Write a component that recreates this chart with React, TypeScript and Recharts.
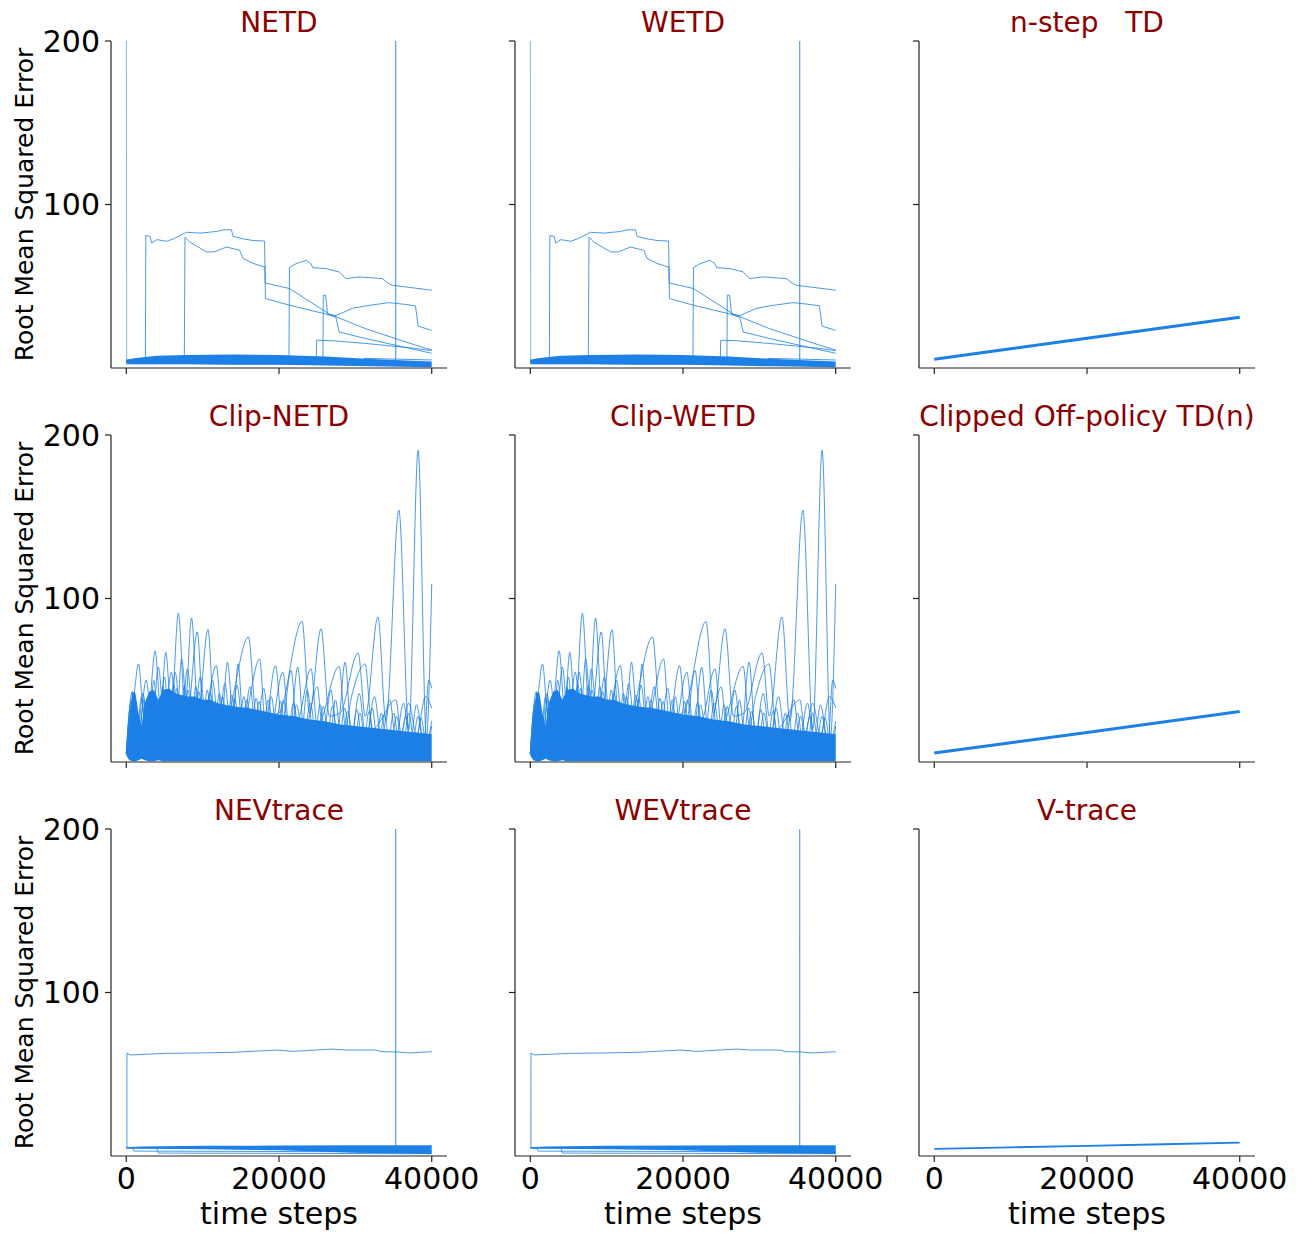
import { Area, ComposedChart, Label, Line, XAxis, YAxis } from 'recharts'

// 3x3 grid of RMSE curves, one small chart per method.

const BLUE = '#1c80e6'
const AXIS = '#222'
const TITLE_RED = '#8b0000'
const FONT = '"DejaVu Sans", "Liberation Sans", sans-serif'

const X_TICKS = [0, 20000, 40000]
const Y_TICKS = [100, 200]
const X_DOMAIN: [number, number] = [-2000, 42000]
const Y_DOMAIN: [number, number] = [0, 200]

type Pt = [number, number]
type BandPt = [number, number, number] // step, low, high of the dense bundle of runs

// ---- NETD / WETD (same picture) ----
const netdBand: BandPt[] = [
  [0, 3, 5], [1000, 2.5, 6], [4000, 2.5, 7.5], [8000, 2.5, 8], [14000, 2, 8.3],
  [20000, 2, 8], [26000, 1.5, 7], [32000, 1, 5.5], [36000, 0.7, 4.8], [40000, 0.4, 4],
]
const netdSpikeStart: Pt[] = [[0, 260], [60, 5], [600, 4.5]]
const netdSpikeLate: Pt[] = [[35270, 5], [35285, 260], [35300, 5]]
const netdRunA: Pt[] = [
  [0, 4.5], [2500, 4.5], [2560, 81], [3130, 80.5], [3340, 76.4], [4000, 78.5], [5300, 77.5],
  [6170, 79], [7900, 83], [9640, 82.5], [11820, 83.5], [12680, 84.5], [13770, 84.5], [13980, 80.5],
  [15290, 79], [16590, 78], [18110, 77.6], [18200, 52], [21370, 48.6], [26580, 33], [31360, 24],
  [37870, 14], [40000, 11],
]
const netdRunB: Pt[] = [
  [0, 4], [7600, 4], [7690, 80], [8340, 77], [10510, 71], [11500, 71], [13120, 74], [14850, 72],
  [15290, 67], [16590, 64], [17890, 62], [18150, 62], [18220, 42.5], [21370, 38.4], [26150, 33],
  [27450, 31], [27880, 22], [31360, 18], [40000, 9],
]
const netdRunC: Pt[] = [
  [0, 3.5], [21300, 3.5], [21370, 61.4], [22240, 63.8], [23540, 65.9], [24190, 63.8], [24410, 61.4],
  [26150, 60.8], [27010, 59.8], [27880, 58.8], [28750, 54.7], [30490, 55.7], [33520, 54.7],
  [34400, 51.6], [34830, 50.6], [40000, 47.6],
]
const netdRunD: Pt[] = [
  [0, 3], [25750, 3], [25800, 44.5], [26100, 44.5], [26360, 33], [27450, 32], [29620, 36.5],
  [31360, 38], [34400, 40], [36350, 39], [37870, 38], [38220, 25.6], [40000, 23],
]
const netdRunE: Pt[] = [[0, 3], [24880, 3], [24930, 17], [27010, 16.7], [31360, 15], [37870, 12], [40000, 10.6]]
const netdRunF: Pt[] = [[0, 2.5], [31100, 2.5], [31140, 5.9], [40000, 4.9]]

// ---- Clip-NETD / Clip-WETD (same picture) ----
const clipBand: BandPt[] = [
  [0, 4, 5], [400, 1, 28], [800, 0.5, 43], [1200, 0.5, 42], [1600, 1, 30], [2000, 2, 22],
  [2400, 1, 36], [3000, 0.5, 43], [3600, 0.5, 44], [4200, 1, 38], [4800, 0.5, 44], [5600, 0.5, 45],
  [6400, 0.5, 42], [7200, 0.5, 41], [8000, 0.5, 40], [9000, 0.5, 40], [10000, 0.5, 38],
  [11000, 0.5, 38], [12000, 0.5, 36], [14000, 0.5, 34], [16000, 0.5, 33], [18000, 0.5, 31],
  [20000, 0.5, 29], [22000, 0.5, 28], [24000, 0.5, 26], [26000, 0.5, 25], [28000, 0.5, 23],
  [30000, 0.5, 22], [32000, 0.5, 21], [34000, 0.5, 20], [36000, 0.5, 19], [38000, 0.5, 18],
  [40000, 0.5, 17],
]
const clipRun1: Pt[] = [
  [0, 5], [1000, 40], [1600, 60], [2300, 30], [3000, 35], [3780, 68], [4500, 32], [5170, 67],
  [5900, 30], [6820, 91], [7700, 32], [8550, 88], [9400, 30], [10700, 81], [11500, 30], [13000, 28],
  [16000, 76.5], [17000, 30], [18500, 28], [20000, 30], [23020, 86], [24000, 30], [25500, 81.5],
  [26600, 28], [28000, 30], [30360, 66.7], [31300, 28], [32960, 88.7], [34000, 25], [35700, 154],
  [37000, 20], [38220, 190.6], [39300, 15], [40000, 109],
]
const clipRun2: Pt[] = [
  [0, 5], [800, 43], [1500, 12], [2600, 50], [3400, 22], [4200, 58], [5000, 24], [5900, 55],
  [6600, 26], [7250, 63], [8000, 28], [9300, 79.5], [10100, 28], [11800, 59], [12500, 26],
  [13250, 61], [14000, 27], [14640, 60], [15300, 26], [17460, 63], [18200, 25], [19540, 59],
  [20400, 24], [21590, 56], [22300, 24], [24200, 57], [25000, 22], [27880, 58.5], [28700, 22],
  [29500, 40], [31270, 60], [32200, 20], [35300, 38], [36000, 18], [37000, 36], [38000, 16],
  [39180, 40], [40000, 33],
]
const clipRun3: Pt[] = [
  [0, 5], [700, 38], [1300, 8], [2200, 42], [2900, 15], [3600, 50], [4300, 18], [5000, 52],
  [5700, 20], [6400, 55], [7200, 22], [8000, 57], [8800, 24], [9700, 52], [10500, 22], [11300, 50],
  [12100, 22], [12900, 48], [13700, 20], [14500, 47], [15300, 20], [16200, 46], [17000, 18],
  [18000, 45], [18800, 18], [20500, 55], [21400, 18], [22450, 58], [23300, 18], [25000, 46],
  [25800, 16], [26800, 44], [27600, 16], [28660, 61], [29500, 16], [30500, 42], [31400, 14],
  [32500, 40], [33400, 14], [34500, 38], [35300, 14], [36300, 36], [37200, 12], [38000, 35],
  [39000, 12], [39600, 50], [40000, 45],
]
const clipRun4: Pt[] = [
  [0, 5], [600, 35], [1200, 5], [2000, 40], [2700, 10], [3400, 44], [4100, 12], [4800, 46],
  [5500, 14], [6200, 48], [6900, 14], [7600, 47], [8400, 15], [9100, 46], [9900, 15], [10600, 44],
  [11400, 14], [12200, 42], [13000, 14], [13800, 41], [14600, 13], [15400, 40], [16200, 13],
  [17000, 39], [17800, 12], [18600, 38], [19400, 12], [20200, 37], [21000, 12], [21900, 36],
  [22800, 11], [23700, 44], [24600, 11], [25400, 35], [26200, 10], [27000, 34], [27800, 10],
  [28600, 33], [29400, 10], [30200, 32], [31000, 9], [31800, 31], [32600, 9], [33400, 30],
  [34200, 8], [35000, 30], [35800, 8], [36600, 28], [37400, 8], [38200, 28], [39000, 7], [40000, 25],
]
const clipRun5: Pt[] = [
  [0, 5], [900, 30], [1500, 3], [2300, 38], [3000, 8], [3700, 42], [4500, 10], [5200, 44],
  [5900, 12], [6600, 45], [7400, 14], [8100, 44], [8800, 14], [9500, 43], [10300, 14], [11000, 42],
  [11800, 14], [12600, 40], [13400, 13], [14200, 39], [15000, 13], [15800, 38], [16600, 12],
  [17400, 37], [18200, 12], [19000, 40], [19800, 12], [20600, 38], [21400, 11], [22300, 35],
  [23200, 11], [24100, 36], [25000, 10], [25800, 34], [26600, 10], [27400, 38], [28200, 10],
  [29000, 31], [29800, 9], [30600, 30], [31400, 9], [32200, 33], [33000, 8], [33800, 29],
  [34600, 8], [35400, 28], [36200, 8], [37000, 30], [37800, 7], [38600, 27], [39400, 7], [40000, 22],
]

// ---- NEVtrace / WEVtrace (same picture) ----
const nevBand: BandPt[] = [
  [0, 4.6, 5.4], [2000, 4.5, 5.8], [10000, 4.2, 6.2], [20000, 3.5, 6.4], [30000, 2, 6.6], [40000, 1.3, 6.6],
]
const nevRunG: Pt[] = [
  [0, 5], [80, 5], [90, 63], [520, 61.8], [5300, 62.8], [9640, 63], [13980, 63.4], [19630, 64.8],
  [21800, 64], [27010, 65.4], [28750, 64.8], [32660, 64.8], [33520, 63.8], [35700, 63.6],
  [37000, 63], [40000, 63.8],
]
const nevSpike: Pt[] = [[35270, 5], [35285, 260], [35300, 5]]
const nevLow1: Pt[] = [[0, 5], [900, 5], [1000, 3], [40000, 2.5]]
const nevLow2: Pt[] = [[0, 5], [4000, 5], [4200, 1.8], [40000, 1.4]]

// ---- right column ----
const nstepTd: Pt[] = [[0, 5.3], [10000, 11.8], [20000, 18.2], [30000, 24.6], [40000, 31]]
const clippedTdN: Pt[] = [[0, 5.5], [10000, 11.8], [20000, 18.1], [30000, 24.5], [40000, 30.9]]
const vtrace: Pt[] = [[0, 4.3], [10000, 5.3], [20000, 6.2], [30000, 7.2], [40000, 8.2]]

// ---- layout ----
const COL_X = [111, 515, 919]
const ROW_Y = [41, 435, 829]
const PLOT_W = 336
const PLOT_H = 327
const Y_AXIS_W = 100
const X_AXIS_H = 80
const TOP_PAD = 25
const RIGHT_PAD = 42

type Series = { pts: Pt[]; width: number; opacity: number }
type PanelSpec = {
  title: string
  row: number
  col: number
  band?: BandPt[]
  curve: 'linear' | 'monotone'
  series: Series[]
}

const thin = (pts: Pt[]): Series => ({ pts, width: 1, opacity: 0.8 })
const faint = (pts: Pt[]): Series => ({ pts, width: 1, opacity: 0.55 })

const netdSeries = [
  faint(netdSpikeStart), faint(netdSpikeLate),
  ...[netdRunA, netdRunB, netdRunC, netdRunD, netdRunE, netdRunF].map(thin),
]
const clipSeries = [clipRun5, clipRun4, clipRun3, clipRun2, clipRun1].map(thin)
const nevSeries = [thin(nevLow1), thin(nevLow2), thin(nevRunG), faint(nevSpike)]

const PANELS: PanelSpec[] = [
  { title: 'NETD', row: 0, col: 0, band: netdBand, curve: 'linear', series: netdSeries },
  { title: 'WETD', row: 0, col: 1, band: netdBand, curve: 'linear', series: netdSeries },
  { title: 'n-step   TD', row: 0, col: 2, curve: 'linear', series: [{ pts: nstepTd, width: 3, opacity: 1 }] },
  { title: 'Clip-NETD', row: 1, col: 0, band: clipBand, curve: 'monotone', series: clipSeries },
  { title: 'Clip-WETD', row: 1, col: 1, band: clipBand, curve: 'monotone', series: clipSeries },
  { title: 'Clipped Off-policy TD(n)', row: 1, col: 2, curve: 'linear', series: [{ pts: clippedTdN, width: 3, opacity: 1 }] },
  { title: 'NEVtrace', row: 2, col: 0, band: nevBand, curve: 'linear', series: nevSeries },
  { title: 'WEVtrace', row: 2, col: 1, band: nevBand, curve: 'linear', series: nevSeries },
  { title: 'V-trace', row: 2, col: 2, curve: 'linear', series: [{ pts: vtrace, width: 1.8, opacity: 1 }] },
]

function Panel({ spec }: { spec: PanelSpec }) {
  const plotLeft = COL_X[spec.col]
  const plotTop = ROW_Y[spec.row]
  const firstCol = spec.col === 0
  const lastRow = spec.row === 2
  const bandRows = (spec.band ?? []).map(([x, lo, hi]) => ({ x, band: [lo, hi] }))

  return (
    <>
      <div
        style={{
          position: 'absolute',
          left: plotLeft - 60,
          top: plotTop - 34,
          width: PLOT_W + 120,
          textAlign: 'center',
          fontFamily: FONT,
          fontSize: 28,
          lineHeight: '32px',
          color: TITLE_RED,
          whiteSpace: 'pre',
        }}
      >
        {spec.title}
      </div>
      <div style={{ position: 'absolute', left: plotLeft - Y_AXIS_W, top: plotTop - TOP_PAD }}>
        <ComposedChart
          width={Y_AXIS_W + PLOT_W + RIGHT_PAD}
          height={TOP_PAD + PLOT_H + X_AXIS_H}
          data={bandRows}
          margin={{ top: TOP_PAD, right: RIGHT_PAD, bottom: 0, left: 0 }}
        >
          <XAxis
            dataKey="x"
            type="number"
            domain={X_DOMAIN}
            ticks={X_TICKS}
            interval={0}
            allowDataOverflow
            height={X_AXIS_H}
            tickSize={6}
            tickMargin={6}
            axisLine={{ stroke: AXIS, strokeWidth: 1.2 }}
            tickLine={{ stroke: AXIS, strokeWidth: 1.2 }}
            tick={{ fontSize: 30, fill: '#000', fontFamily: FONT }}
            tickFormatter={(v: number) => (lastRow ? String(v) : '')}
          >
            {lastRow && (
              <Label value="time steps" position="insideBottom" offset={12} fontSize={30} fill="#000" fontFamily={FONT} />
            )}
          </XAxis>
          <YAxis
            type="number"
            domain={Y_DOMAIN}
            ticks={Y_TICKS}
            interval={0}
            allowDataOverflow
            width={Y_AXIS_W}
            tickSize={6}
            tickMargin={5}
            axisLine={{ stroke: AXIS, strokeWidth: 1.2 }}
            tickLine={{ stroke: AXIS, strokeWidth: 1.2 }}
            tick={{ fontSize: 30, fill: '#000', fontFamily: FONT }}
            tickFormatter={(v: number) => (firstCol ? String(v) : '')}
          >
            {firstCol && (
              <Label
                value="Root Mean Squared Error"
                angle={-90}
                position="insideLeft"
                offset={13}
                fontSize={25}
                fill="#000"
                fontFamily={FONT}
                style={{ textAnchor: 'middle' }}
              />
            )}
          </YAxis>
          {spec.band && (
            <Area
              dataKey="band"
              type="linear"
              stroke="none"
              fill={BLUE}
              fillOpacity={1}
              isAnimationActive={false}
            />
          )}
          {spec.series.map((s, i) => (
            <Line
              key={i}
              data={s.pts.map(([x, y]) => ({ x, y }))}
              dataKey="y"
              type={spec.curve}
              stroke={BLUE}
              strokeWidth={s.width}
              strokeOpacity={s.opacity}
              dot={false}
              activeDot={false}
              isAnimationActive={false}
            />
          ))}
        </ComposedChart>
      </div>
    </>
  )
}

export default function App() {
  return (
    <div style={{ position: 'absolute', left: 0, top: 0, width: 1301, height: 1233, background: '#fff' }}>
      {PANELS.map((p) => (
        <Panel key={p.title} spec={p} />
      ))}
    </div>
  )
}
